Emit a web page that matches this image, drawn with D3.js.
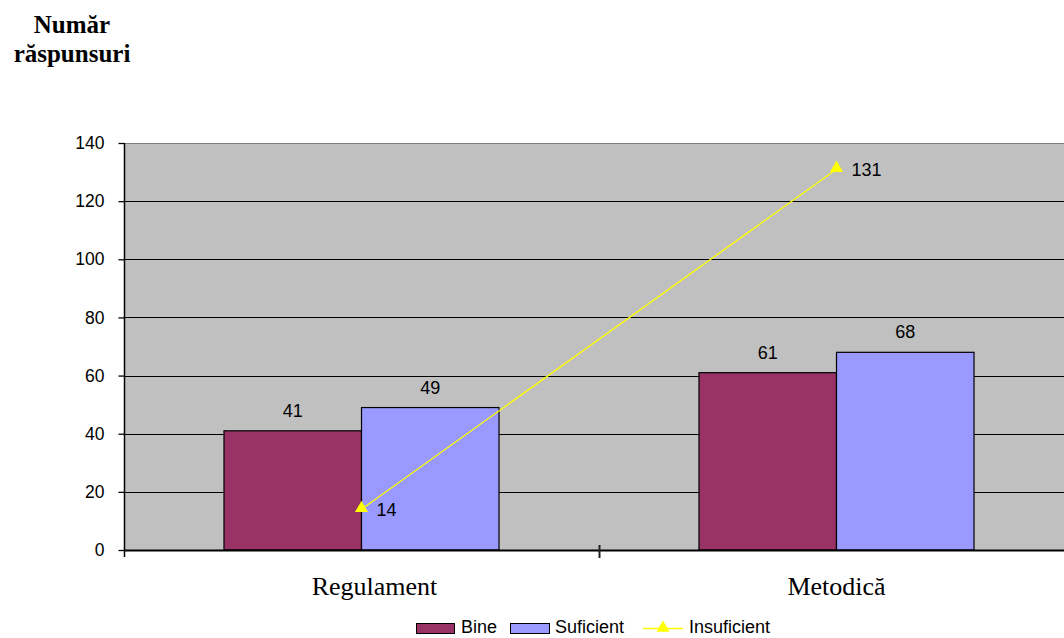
<!DOCTYPE html>
<html>
<head>
<meta charset="utf-8">
<script src="https://cdn.jsdelivr.net/npm/d3@7"></script>
<style>
  html, body { margin: 0; padding: 0; background: #fff; overflow: hidden; }
  svg { display: block; }
</style>
</head>
<body>
<svg id="chart" width="1064" height="638"></svg>
<script>
// Chart data
const categories = ["Regulament", "Metodică"];
const bineValues = [41, 61];
const suficientValues = [49, 68];
const insuficientValues = [14, 131];
const yTicks = [0, 20, 40, 60, 80, 100, 120, 140];

const svg = d3.select("#chart");
const plot = { left: 124, right: 1074, top: 143, bottom: 550 };
const SANS = "Liberation Sans, Arial, sans-serif";
const SERIF = "Liberation Serif, Times New Roman, serif";

const x = d3.scaleBand().domain(categories).range([plot.left, plot.right]).padding(0);
const y = d3.scaleLinear().domain([0, 140]).range([plot.bottom, plot.top]);

// Bars take the middle part of each category slot
const inner = d3.scaleBand().domain(["Bine", "Suficient"])
  .range([x.bandwidth() * 0.2105, x.bandwidth() * 0.7895]).padding(0);

// Plot background
svg.append("rect")
  .attr("x", plot.left).attr("y", plot.top)
  .attr("width", plot.right - plot.left).attr("height", plot.bottom - plot.top)
  .attr("fill", "#C0C0C0");

// Gridlines
svg.append("g").selectAll("line").data(yTicks.filter(d => d > 0)).join("line")
  .attr("x1", plot.left).attr("x2", plot.right)
  .attr("y1", d => Math.round(y(d)) + 0.5).attr("y2", d => Math.round(y(d)) + 0.5)
  .attr("stroke", d => d === 140 ? "#808080" : "#000").attr("stroke-width", 1);

// Bars with value labels
const series = [
  { name: "Bine", values: bineValues, color: "#993366" },
  { name: "Suficient", values: suficientValues, color: "#9999FF" }
];
series.forEach(s => {
  svg.append("g").selectAll("rect").data(categories).join("rect")
    .attr("x", c => x(c) + inner(s.name))
    .attr("y", (c, i) => y(s.values[i]))
    .attr("width", inner.bandwidth())
    .attr("height", (c, i) => y(0) - y(s.values[i]))
    .attr("fill", s.color)
    .attr("stroke", "#000").attr("stroke-width", 1.2);
  svg.append("g").selectAll("text").data(categories).join("text")
    .attr("x", c => x(c) + inner(s.name) + inner.bandwidth() / 2)
    .attr("y", (c, i) => y(s.values[i]) - 14)
    .attr("text-anchor", "middle")
    .attr("font-family", SANS)
    .attr("font-size", 18)
    .text((c, i) => s.values[i]);
});

// Line series (Insuficient) at category centers
const cx = c => x(c) + x.bandwidth() / 2;
const line = d3.line().x((d, i) => cx(categories[i])).y(d => y(d));
svg.append("path").datum(insuficientValues)
  .attr("d", line).attr("fill", "none")
  .attr("stroke", "#FFFF00").attr("stroke-width", 1.3);
const tri = d3.symbol().type(d3.symbolTriangle).size(75);
svg.append("g").selectAll("path").data(insuficientValues).join("path")
  .attr("d", tri)
  .attr("transform", (d, i) => `translate(${cx(categories[i])},${y(d) - 1})`)
  .attr("fill", "#FFFF00");
svg.append("g").selectAll("text").data(insuficientValues).join("text")
  .attr("x", (d, i) => cx(categories[i]) + 15)
  .attr("y", d => y(d) + 7)
  .attr("font-family", SANS)
  .attr("font-size", 18)
  .text(d => d);

// Y axis
const yAxis = d3.axisLeft(y).tickValues(yTicks).tickSize(6).tickPadding(14).tickSizeOuter(0);
const gy = svg.append("g").attr("transform", `translate(${plot.left + 0.5},0)`).call(yAxis);
gy.selectAll("text").attr("font-family", SANS)
  .attr("font-size", 17.5).attr("fill", "#000");
gy.selectAll("line").attr("stroke", "#000").attr("stroke-width", 1.3);
gy.select(".domain").attr("stroke", "#000").attr("stroke-width", 1.5)
  .attr("d", `M0,${plot.top}V${plot.bottom + 7}`);

// X axis: baseline and category boundary ticks
svg.append("line")
  .attr("x1", plot.left).attr("x2", plot.right)
  .attr("y1", plot.bottom + 0.5).attr("y2", plot.bottom + 0.5)
  .attr("stroke", "#000").attr("stroke-width", 2);
svg.append("g").selectAll("line").data(categories.slice(1)).join("line")
  .attr("x1", c => x(c) + 0.5).attr("x2", c => x(c) + 0.5)
  .attr("y1", plot.bottom - 5).attr("y2", plot.bottom + 8)
  .attr("stroke", "#222").attr("stroke-width", 2);
// Category labels; the first one sits slightly right of its slot center
svg.append("g").selectAll("text").data(categories).join("text")
  .attr("x", (c, i) => cx(c) + (i === 0 ? 13 : 0))
  .attr("y", 595)
  .attr("text-anchor", "middle")
  .attr("font-family", SERIF)
  .attr("font-size", 26)
  .text(c => c);

// Y axis title
const title = svg.append("text")
  .attr("text-anchor", "middle")
  .attr("font-family", SERIF)
  .attr("font-size", 25).attr("font-weight", "bold");
title.append("tspan").attr("x", 72).attr("y", 33).text("Număr");
title.append("tspan").attr("x", 72).attr("y", 62).text("răspunsuri");

// Legend, kept just inside the bottom edge
const legend = svg.append("g").attr("font-family", SANS).attr("font-size", 18);
const lgY = 628;
legend.append("rect").attr("x", 416.5).attr("y", lgY - 4.5).attr("width", 38).attr("height", 10)
  .attr("fill", "#993366").attr("stroke", "#000");
legend.append("text").attr("x", 461).attr("y", lgY + 5).text("Bine");
legend.append("rect").attr("x", 510.5).attr("y", lgY - 4.5).attr("width", 39).attr("height", 10)
  .attr("fill", "#9999FF").attr("stroke", "#000");
legend.append("text").attr("x", 555).attr("y", lgY + 5).text("Suficient");
legend.append("line").attr("x1", 643).attr("x2", 683).attr("y1", lgY + 0.5).attr("y2", lgY + 0.5)
  .attr("stroke", "#FFFF00").attr("stroke-width", 1.5);
legend.append("path").attr("d", tri).attr("transform", `translate(663,${lgY})`).attr("fill", "#FFFF00");
legend.append("text").attr("x", 689).attr("y", lgY + 5).text("Insuficient");
</script>
</body>
</html>
